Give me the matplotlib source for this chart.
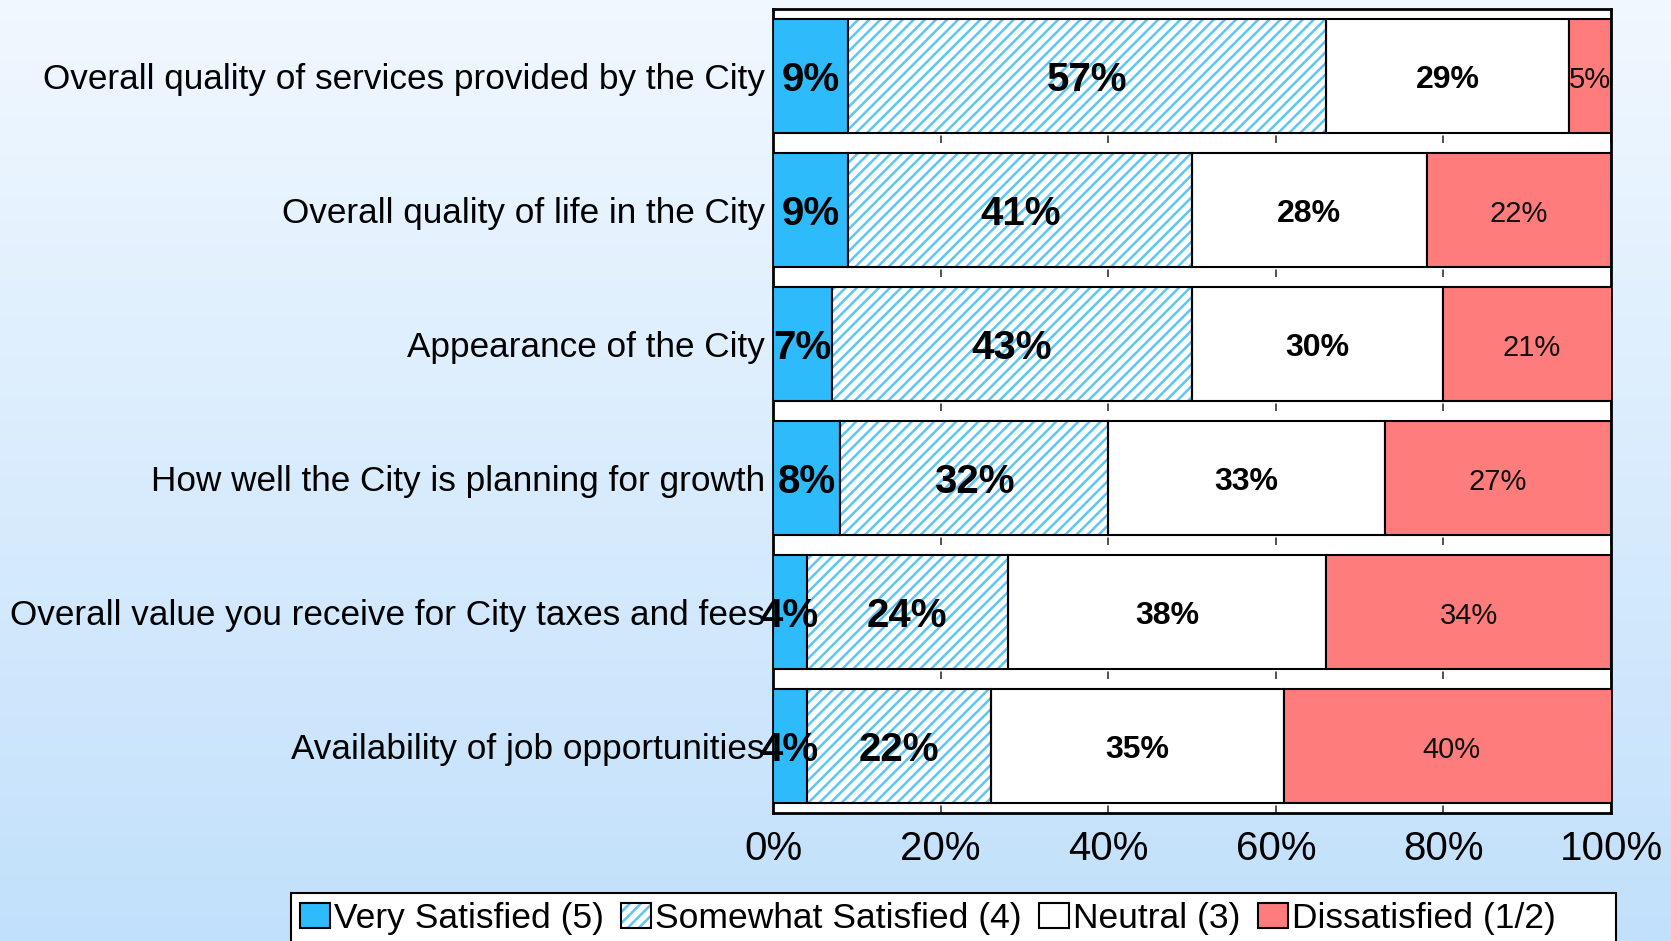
import matplotlib
matplotlib.use("Agg")
import matplotlib.pyplot as plt
from matplotlib.patches import Patch
from matplotlib.legend_handler import HandlerTuple
import numpy as np

# survey items, top to bottom
categories = [
    "Overall quality of services provided by the City",
    "Overall quality of life in the City",
    "Appearance of the City",
    "How well the City is planning for growth",
    "Overall value you receive for City taxes and fees",
    "Availability of job opportunities",
]
very_satisfied = [9, 9, 7, 8, 4, 4]
somewhat_satisfied = [57, 41, 43, 32, 24, 22]
neutral = [29, 28, 30, 33, 38, 35]
dissatisfied = [5, 22, 21, 27, 34, 40]
series_names = ["Very Satisfied (5)", "Somewhat Satisfied (4)", "Neutral (3)", "Dissatisfied (1/2)"]
xticks = [0, 20, 40, 60, 80, 100]

BLUE = "#2ebbfb"
HATCH_BLUE = "#5cc6f5"
RED = "#ff7c7c"
plt.rcParams["font.family"] = ["Liberation Sans", "DejaVu Sans"]
plt.rcParams["hatch.linewidth"] = 1.8

fig = plt.figure(figsize=(16.71, 9.41), dpi=100)

# gradient background
bg = fig.add_axes([0, 0, 1, 1], zorder=-10)
grad = np.linspace(0, 1, 256).reshape(-1, 1)
top = np.array([0.945, 0.972, 1.0])
bottom = np.array([0.76, 0.88, 0.985])
img = top + (bottom - top) * grad[..., None]
bg.imshow(img, aspect="auto", extent=[0, 1, 0, 1])
bg.axis("off")

ax = fig.add_axes([0.4626, 0.1360, 0.5015, 0.8544])
ax.set_facecolor("white")

y = np.arange(len(categories))
h = 0.85
vs = np.array(very_satisfied)
ss = np.array(somewhat_satisfied)
ne = np.array(neutral)
di = np.array(dissatisfied)

ax.barh(y, vs, height=h, color=BLUE, edgecolor="black", linewidth=1.5, zorder=3)
ax.barh(y, ss, left=vs, height=h, color="white", edgecolor=HATCH_BLUE,
        hatch="///", linewidth=0, zorder=3)
ax.barh(y, ss, left=vs, height=h, color="none", edgecolor="black", linewidth=1.5, zorder=4)
ax.barh(y, ne, left=vs + ss, height=h, color="white", edgecolor="black", linewidth=1.5, zorder=3)
ax.barh(y, di, left=vs + ss + ne, height=h, color=RED, edgecolor="black", linewidth=1.5, zorder=3)

dy = 0.03
for i in range(len(categories)):
    ax.text(vs[i] / 2, y[i] + dy, f"{vs[i]}%", ha="center", va="center",
            fontsize=29, fontweight="bold", zorder=6)
    ax.text(vs[i] + ss[i] / 2, y[i] + dy, f"{ss[i]}%", ha="center", va="center",
            fontsize=29, fontweight="bold", zorder=6)
    ax.text(vs[i] + ss[i] + ne[i] / 2, y[i] + dy, f"{ne[i]}%", ha="center", va="center",
            fontsize=23, fontweight="bold", zorder=6)
    ax.text(vs[i] + ss[i] + ne[i] + di[i] / 2, y[i] + dy, f"{di[i]}%", ha="center", va="center",
            fontsize=21, color="#111111", zorder=6)

ax.set_xlim(0, 100)
ax.set_ylim(len(categories) - 0.5, -0.5)
ax.set_yticks(y)
ax.set_yticklabels(categories, fontsize=25.3)
ax.set_xticks(xticks)
ax.set_xticklabels([f"{t}%" for t in xticks], fontsize=29)
ax.tick_params(axis="both", length=0)
ax.tick_params(axis="x", pad=12)
ax.tick_params(axis="y", pad=6)

# short grid marks that only show in the gaps between bars
grid_lw = 1.2
period = 134 * 0.72 / grid_lw  # one category step, in dash units
ax.xaxis.grid(True, color="#333333", linewidth=grid_lw,
              linestyle=(0, (4.5, period - 4.5)), zorder=1)
ax.set_axisbelow(True)
for s in ax.spines.values():
    s.set_linewidth(2)
    s.set_color("black")

handles = [
    Patch(facecolor=BLUE, edgecolor="black", linewidth=1.5),
    (Patch(facecolor="white", edgecolor=HATCH_BLUE, hatch="///", linewidth=0),
     Patch(facecolor="none", edgecolor="black", linewidth=1.5)),
    Patch(facecolor="white", edgecolor="black", linewidth=1.5),
    Patch(facecolor=RED, edgecolor="black", linewidth=1.5),
    Patch(visible=False),  # empty slot: the legend box runs on past the last entry
]
leg = fig.legend(handles, series_names + [""], loc="upper left",
                 bbox_to_anchor=(291 / 1671, 1 - 893 / 941), ncol=5,
                 fontsize=25.5, frameon=True, fancybox=False, framealpha=1,
                 edgecolor="black", handlelength=0.85, handleheight=0.75,
                 handletextpad=0.1, columnspacing=0.5, borderpad=0.25,
                 borderaxespad=0, handler_map={tuple: HandlerTuple(ndivide=1, pad=0)})
leg.get_frame().set_linewidth(1.5)

fig.savefig("out.png", dpi=100)
